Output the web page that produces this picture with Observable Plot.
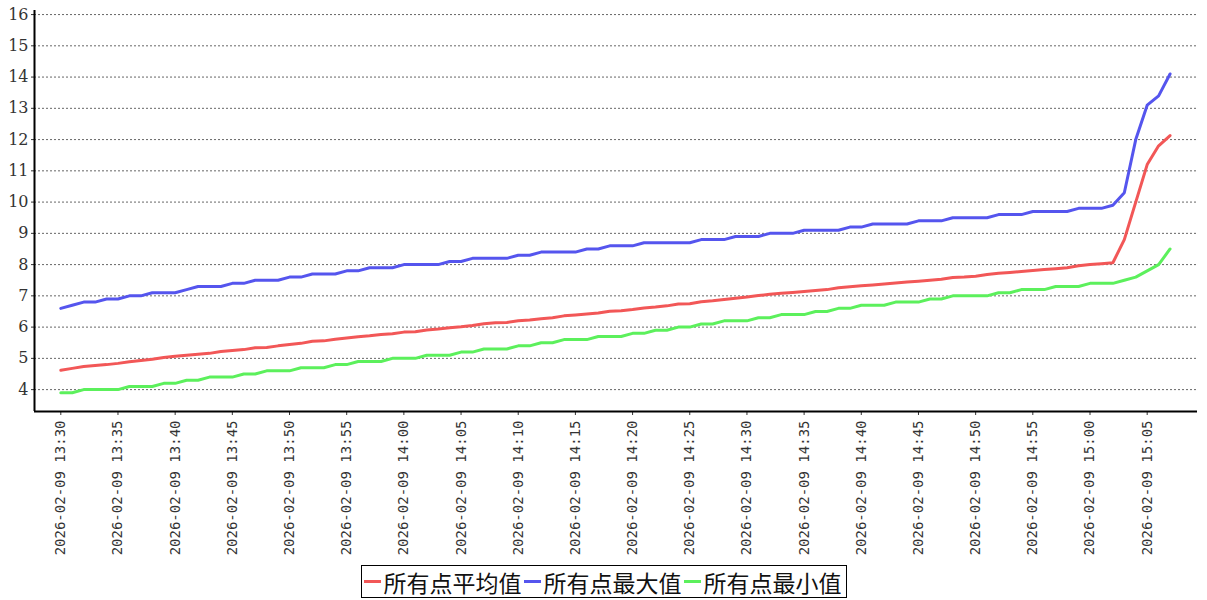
<!DOCTYPE html>
<html>
<head>
<meta charset="utf-8">
<script src="https://cdn.jsdelivr.net/npm/d3@7"></script>
<script src="https://cdn.jsdelivr.net/npm/@observablehq/plot@0.6"></script>
<style>
  html, body { margin: 0; padding: 0; background: #fff; }
  #chart svg { display: block; }
  #legend {
    position: absolute; left: 50%; top: 565px; transform: translateX(-50%);
    border: 1px solid #000; height: 31px; padding: 0 2px;
    display: flex; align-items: center; white-space: nowrap;
    font-family: "Noto Sans CJK SC", sans-serif; font-size: 23px; color: #111;
  }
  #legend .item { display: flex; align-items: center; margin-right: 2px; }
  #legend .sw { display: inline-block; width: 17px; height: 3px; margin-right: 3px; }
</style>
</head>
<body>
<div id="chart"></div>
<div id="legend"></div>
<script>
// ---- data ----
const seriesNames = ["所有点平均值", "所有点最大值", "所有点最小值"];
const seriesColors = ["#f25757", "#5555ee", "#5cf05c"];
const startTime = "2026-02-09T13:30:00Z";
const endTime = "2026-02-09T15:08:00Z";
const times = d3.utcMinute.range(new Date(startTime), new Date(endTime)); // 13:30 .. 15:07, one per minute

const avgValues = [
  4.62, 4.68, 4.74, 4.77, 4.80, 4.84, 4.89, 4.93, 4.97, 5.03,
  5.07, 5.10, 5.13, 5.16, 5.22, 5.25, 5.28, 5.34, 5.35, 5.40,
  5.44, 5.48, 5.55, 5.56, 5.61, 5.65, 5.69, 5.72, 5.76, 5.79,
  5.84, 5.85, 5.91, 5.94, 5.98, 6.01, 6.05, 6.11, 6.14, 6.15,
  6.20, 6.23, 6.27, 6.30, 6.36, 6.39, 6.42, 6.45, 6.51, 6.52,
  6.56, 6.61, 6.64, 6.68, 6.74, 6.75, 6.81, 6.84, 6.88, 6.92,
  6.96, 7.01, 7.05, 7.08, 7.11, 7.14, 7.17, 7.20, 7.26, 7.29,
  7.32, 7.35, 7.38, 7.41, 7.44, 7.47, 7.50, 7.53, 7.59, 7.60,
  7.63, 7.68, 7.72, 7.75, 7.78, 7.81, 7.84, 7.87, 7.90, 7.96,
  8.00, 8.03, 8.06, 8.80, 10.0, 11.2, 11.8, 12.13
];
const maxValues = [
  6.6, 6.7, 6.8, 6.8, 6.9, 6.9, 7.0, 7.0, 7.1, 7.1,
  7.1, 7.2, 7.3, 7.3, 7.3, 7.4, 7.4, 7.5, 7.5, 7.5,
  7.6, 7.6, 7.7, 7.7, 7.7, 7.8, 7.8, 7.9, 7.9, 7.9,
  8.0, 8.0, 8.0, 8.0, 8.1, 8.1, 8.2, 8.2, 8.2, 8.2,
  8.3, 8.3, 8.4, 8.4, 8.4, 8.4, 8.5, 8.5, 8.6, 8.6,
  8.6, 8.7, 8.7, 8.7, 8.7, 8.7, 8.8, 8.8, 8.8, 8.9,
  8.9, 8.9, 9.0, 9.0, 9.0, 9.1, 9.1, 9.1, 9.1, 9.2,
  9.2, 9.3, 9.3, 9.3, 9.3, 9.4, 9.4, 9.4, 9.5, 9.5,
  9.5, 9.5, 9.6, 9.6, 9.6, 9.7, 9.7, 9.7, 9.7, 9.8,
  9.8, 9.8, 9.9, 10.3, 12.0, 13.1, 13.4, 14.1
];
const minValues = [
  3.9, 3.9, 4.0, 4.0, 4.0, 4.0, 4.1, 4.1, 4.1, 4.2,
  4.2, 4.3, 4.3, 4.4, 4.4, 4.4, 4.5, 4.5, 4.6, 4.6,
  4.6, 4.7, 4.7, 4.7, 4.8, 4.8, 4.9, 4.9, 4.9, 5.0,
  5.0, 5.0, 5.1, 5.1, 5.1, 5.2, 5.2, 5.3, 5.3, 5.3,
  5.4, 5.4, 5.5, 5.5, 5.6, 5.6, 5.6, 5.7, 5.7, 5.7,
  5.8, 5.8, 5.9, 5.9, 6.0, 6.0, 6.1, 6.1, 6.2, 6.2,
  6.2, 6.3, 6.3, 6.4, 6.4, 6.4, 6.5, 6.5, 6.6, 6.6,
  6.7, 6.7, 6.7, 6.8, 6.8, 6.8, 6.9, 6.9, 7.0, 7.0,
  7.0, 7.0, 7.1, 7.1, 7.2, 7.2, 7.2, 7.3, 7.3, 7.3,
  7.4, 7.4, 7.4, 7.5, 7.6, 7.8, 8.0, 8.5
];
const yTicks = [4, 5, 6, 7, 8, 9, 10, 11, 12, 13, 14, 15, 16];
const xTicks = d3.utcMinute.every(5).range(new Date(startTime), new Date(endTime));

// ---- table for Plot ----
const allValues = [avgValues, maxValues, minValues];
const rows = [];
seriesNames.forEach((name, s) => {
  times.forEach((t, i) => rows.push({ time: t, value: allValues[s][i], series: name }));
});

const xDomain = [new Date("2026-02-09T13:27:42Z"), new Date("2026-02-09T15:09:24Z")];
const yDomain = [3.3, 16.13];
const fmt = d3.utcFormat("%Y-%m-%d %H:%M");

const chart = Plot.plot({
  width: 1207,
  height: 563,
  marginLeft: 34,
  marginRight: 10,
  marginTop: 10,
  marginBottom: 152,
  style: { background: "#fff", color: "#333" },
  x: { type: "utc", domain: xDomain, label: null },
  y: { domain: yDomain, label: null },
  color: { domain: seriesNames, range: seriesColors },
  marks: [
    Plot.gridY(yTicks, { stroke: "#666", strokeOpacity: 1, strokeWidth: 1, strokeDasharray: "2,2" }),
    Plot.axisY(yTicks, {
      tickSize: 3, tickPadding: 3, tickFormat: d => String(d), label: null,
      fontSize: 16, fontFamily: "DejaVu Serif", fill: "#333"
    }),
    Plot.axisX(xTicks, {
      tickSize: 4, tickPadding: 5, tickRotate: -90, tickFormat: fmt, label: null,
      fontSize: 14, fontFamily: "DejaVu Sans Mono", fill: "#333"
    }),
    Plot.ruleX([xDomain[0]], { stroke: "#000", strokeWidth: 2 }),
    Plot.ruleY([yDomain[0]], { stroke: "#000", strokeWidth: 2 }),
    Plot.line(rows, { x: "time", y: "value", z: "series", stroke: "series", strokeWidth: 3, curve: "linear" })
  ]
});
document.getElementById("chart").appendChild(chart);

// ---- legend ----
const legend = document.getElementById("legend");
seriesNames.forEach((name, i) => {
  const item = document.createElement("span");
  item.className = "item";
  const sw = document.createElement("span");
  sw.className = "sw";
  sw.style.background = seriesColors[i];
  item.appendChild(sw);
  item.appendChild(document.createTextNode(name));
  legend.appendChild(item);
});
</script>
</body>
</html>
